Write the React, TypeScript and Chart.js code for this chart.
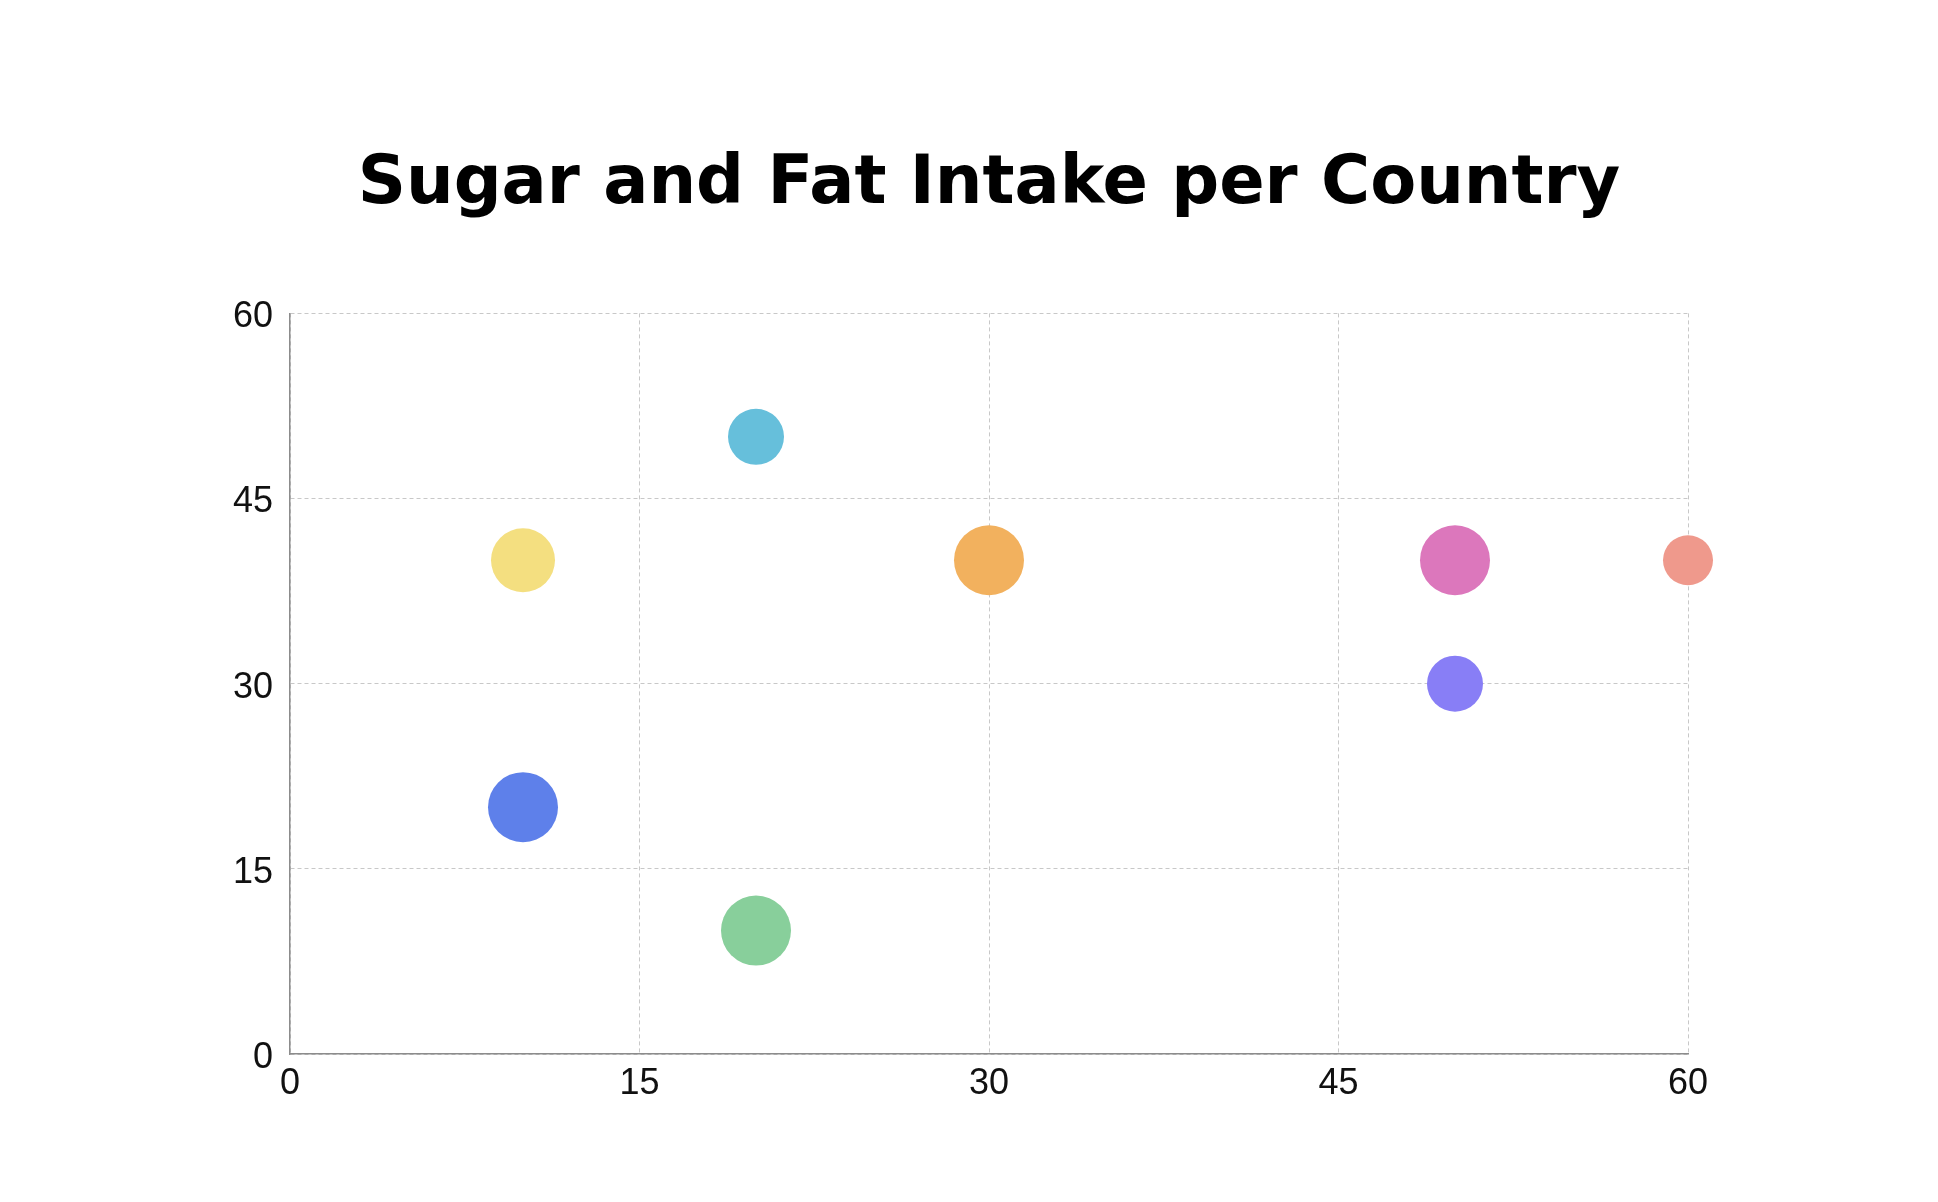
import React, { useEffect, useRef } from "react";
import { Chart, registerables } from "chart.js";

Chart.register(...registerables);

const TITLE = "Sugar and Fat Intake per Country";
const countries = ["A", "B", "C", "D", "E", "F", "G", "H"];
const sugarValues = [10, 20, 30, 50, 60, 50, 10, 20];
const fatValues = [40, 50, 40, 40, 40, 30, 20, 10];
const bubbleSizes = [32, 28, 35, 35, 25, 28, 35, 35];
const bubbleColors = [
  "#F4DF80",
  "#66BFDB",
  "#F2B15E",
  "#DC77BC",
  "#EF998C",
  "#887EF6",
  "#5E80EA",
  "#88CF9B",
];
const axisTicks = [0, 15, 30, 45, 60];

export default function App() {
  const ref = useRef<HTMLCanvasElement | null>(null);

  useEffect(() => {
    if (!ref.current) return;
    const datasets = countries.map((c, i) => ({
      label: c,
      data: [{ x: sugarValues[i], y: fatValues[i], r: bubbleSizes[i] }],
      backgroundColor: bubbleColors[i],
      borderColor: bubbleColors[i],
      borderWidth: 0,
      clip: false as any,
    }));
    const tickFont = { family: "'Liberation Sans', Arial, sans-serif", size: 36 };
    const chart = new Chart(ref.current, {
      type: "bubble",
      data: { datasets },
      options: {
        animation: false,
        responsive: true,
        maintainAspectRatio: false,
        layout: { padding: { left: 212, right: 242, top: 0, bottom: 80 } },
        plugins: {
          legend: { display: false },
          tooltip: { enabled: false },
          title: {
            display: true,
            text: TITLE,
            fullSize: false,
            color: "#000",
            font: { family: "'DejaVu Sans', sans-serif", size: 67, weight: "bold" },
            padding: { top: 137, bottom: 88 },
          },
        },
        scales: {
          x: {
            type: "linear",
            min: axisTicks[0],
            max: axisTicks[axisTicks.length - 1],
            afterBuildTicks: (s: any) => {
              s.ticks = axisTicks.map((v) => ({ value: v }));
            },
            afterFit: (s: any) => {
              s.height = 60;
            },
            ticks: { font: tickFont, color: "#111", padding: 8 },
            grid: { color: "#c8c8c8", drawTicks: false, lineWidth: 1 },
            border: { display: true, color: "#8c8c8c", width: 1.5, dash: [4, 3] },
          },
          y: {
            type: "linear",
            min: axisTicks[0],
            max: axisTicks[axisTicks.length - 1],
            afterBuildTicks: (s: any) => {
              s.ticks = axisTicks.map((v) => ({ value: v }));
            },
            afterFit: (s: any) => {
              s.width = 70;
            },
            ticks: { font: tickFont, color: "#111", padding: 17, labelOffset: 4 },
            grid: { color: "#c8c8c8", drawTicks: false, lineWidth: 1 },
            border: { display: true, color: "#8c8c8c", width: 1.5, dash: [4, 3] },
          },
        },
      },
    });
    return () => chart.destroy();
  }, []);

  return (
    <div style={{ width: 1922, height: 1186, position: "relative" }}>
      <canvas ref={ref} />
    </div>
  );
}
